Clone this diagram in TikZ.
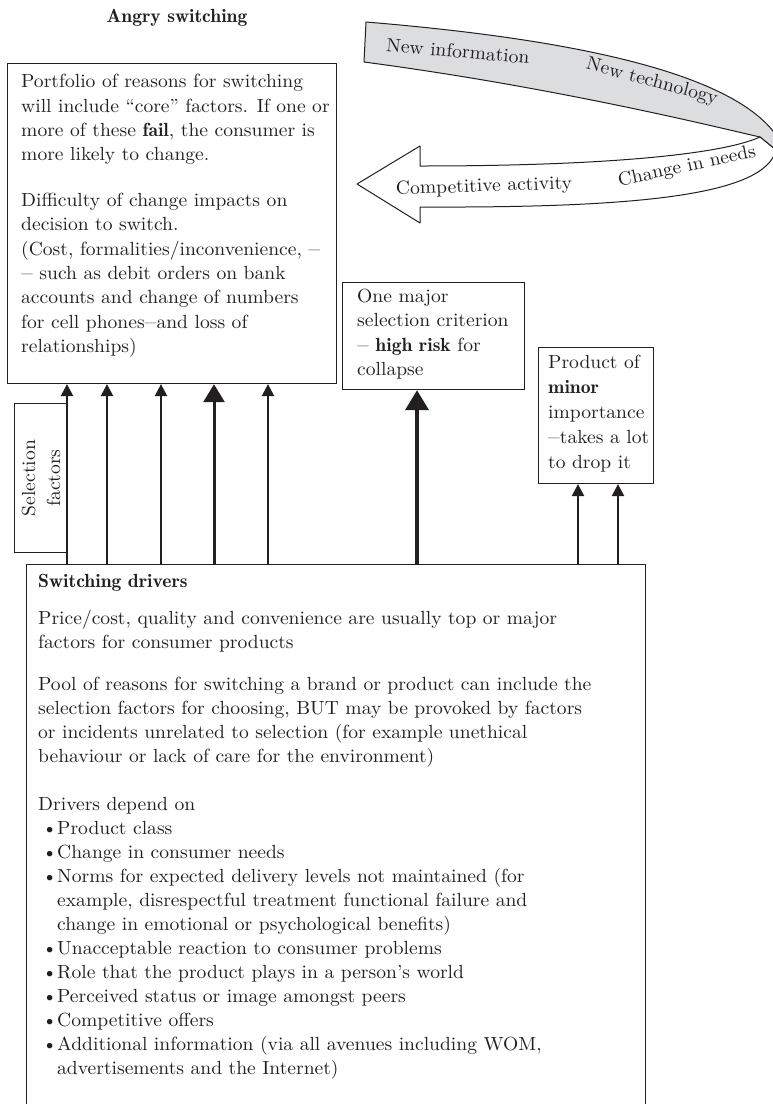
\documentclass[tikz,border=0pt]{standalone}
\usepackage{fontspec}
\setmainfont{lmroman10-regular.otf}[BoldFont=lmromandemi10-regular.otf, ItalicFont=lmroman10-italic.otf, FakeStretch=1.03]
\usetikzlibrary{arrows.meta}
\definecolor{ink}{HTML}{231F20}
\definecolor{band}{HTML}{DCDDDE}
\newcommand{\drvbullet}{\hspace*{4pt}\makebox[15pt][l]{\textbullet}}
\newcommand{\drvindent}{\hspace*{19pt}}
\newcommand{\firstline}{\rule{0pt}{14pt}}
% the book face sets its dashes narrow
\newcommand{\shortdash}{\scalebox{0.6}[1]{—}}
\tikzset{
  txt/.style={font=\fontsize{19}{24.4}\selectfont, text=ink, inner sep=0pt, align=left, anchor=north west},
  frame/.style={draw=ink, line width=1.2pt, inner sep=0pt, anchor=north west},
  thinarrow/.style={draw=ink, line width=1.1pt, -{Triangle[width=12.5pt,length=12pt]}},
  thickarrow/.style={draw=ink, line width=3pt, -{Triangle[width=21pt,length=18pt]}},
  heavyarrow/.style={draw=ink, line width=4pt, -{Triangle[width=23pt,length=20pt]}},
  ribbontext/.style={font=\fontsize{19}{22}\selectfont, text=ink, inner sep=0pt},
  ribbon/.style={draw=ink, line width=1pt, line join=round},
}
\begin{document}
\begin{tikzpicture}[x=1pt,y=-1pt]
\useasboundingbox (0,0) rectangle (773,1104);

% title
\node[font=\fontsize{19}{22}\selectfont\bfseries, text=ink, inner sep=0pt, anchor=base] (title) at (177,22) {Angry switching};

% the ribbon: grey band behind, white arrow in front
\path[ribbon, fill=band] (366,22) .. controls (560,38) and (730,70) .. (776,135)
  -- (776,150) -- (760,137) .. controls (720,128) and (560,88) .. (364,62) -- cycle;
\path[ribbon, fill=white] (760,137) .. controls (720,155) and (600,166) .. (420,166)
  -- (420,146) -- (357,184) -- (420,223) -- (420,207)
  .. controls (640,208) and (765,195) .. (776,150) -- cycle;
\node[ribbontext, rotate=-5] (newinfo) at (458,51) {New information};
\node[ribbontext, rotate=-15] (newtech) at (652,82) {New technology};
\node[ribbontext, rotate=12] (needs) at (687,167) {Change in needs};
\node[ribbontext, rotate=2] (compet) at (484,187) {Competitive activity};

% boxes
\node[frame, minimum width=329pt, minimum height=320pt] (port) at (7,63) {};
\node[frame, minimum width=182pt, minimum height=107pt] (major) at (342,282) {};
\node[frame, minimum width=115pt, minimum height=136pt] (minor) at (538,347) {};
\node[frame, minimum width=53pt, minimum height=149pt] (sel) at (14,403) {};
\node[frame, minimum width=619pt, minimum height=560pt] (sw) at (26,564) {};

% box texts
\node[txt] (porttext) at (21,73.5) {\firstline Portfolio of reasons for switching\\
will include “core” factors. If one or\\
more of these \textbf{fail}, the consumer is\\
more likely to change.\\[21pt]
Difficulty of change impacts on\\
decision to switch.\\
(Cost, formalities/inconvenience, \shortdash\\
\shortdash{} such as debit orders on bank\\
accounts and change of numbers\\
for cell phones\shortdash and loss of\\
relationships)};

\node[txt] (majortext) at (357,288) {\firstline One major\\
selection criterion\\
\shortdash{} \textbf{high risk} for\\
collapse};

\node[txt, font=\fontsize{19}{25}\selectfont] (minortext) at (548,354) {\firstline Product of\\
\textbf{minor}\\
importance\\
\shortdash takes a lot\\
to drop it};

\node[txt, anchor=center, align=center, rotate=90, font=\fontsize{19}{25}\selectfont] (seltext) at (41,478) {Selection\\factors};

\node[txt, font=\fontsize{19}{24}\selectfont] (swtext) at (38,573) {\firstline\textbf{Switching drivers}\\[13pt]
Price/cost, quality and convenience are usually top or major\\
factors for consumer products\\[18pt]
Pool of reasons for switching a brand or product can include the\\
selection factors for choosing, BUT may be provoked by factors\\
or incidents unrelated to selection (for example unethical\\
behaviour or lack of care for the environment)\\[24pt]
Drivers depend on\\
\drvbullet Product class\\
\drvbullet Change in consumer needs\\
\drvbullet Norms for expected delivery levels not maintained (for\\
\drvindent example, disrespectful treatment functional failure and\\
\drvindent change in emotional or psychological benefits)\\
\drvbullet Unacceptable reaction to consumer problems\\
\drvbullet Role that the product plays in a person’s world\\
\drvbullet Perceived status or image amongst peers\\
\drvbullet Competitive offers\\
\drvbullet Additional information (via all avenues including WOM,\\
\drvindent advertisements and the Internet)};

% connectors from the switching drivers upward
\draw[thinarrow] (sw.north -| 67,0) -- (port.south -| 67,0);
\draw[thinarrow] (sw.north -| 107,0) -- (port.south -| 107,0);
\draw[thinarrow] (sw.north -| 161,0) -- (port.south -| 161,0);
\draw[thickarrow] (sw.north -| 214,0) -- (port.south -| 214,0);
\draw[thinarrow] (sw.north -| 268,0) -- (port.south -| 268,0);
\draw[heavyarrow] (sw.north -| 417,0) -- (major.south -| 417,0);
\draw[thinarrow] (sw.north -| 578,0) -- (minor.south -| 578,0);
\draw[thinarrow] (sw.north -| 618,0) -- (minor.south -| 618,0);
\end{tikzpicture}
\end{document}
